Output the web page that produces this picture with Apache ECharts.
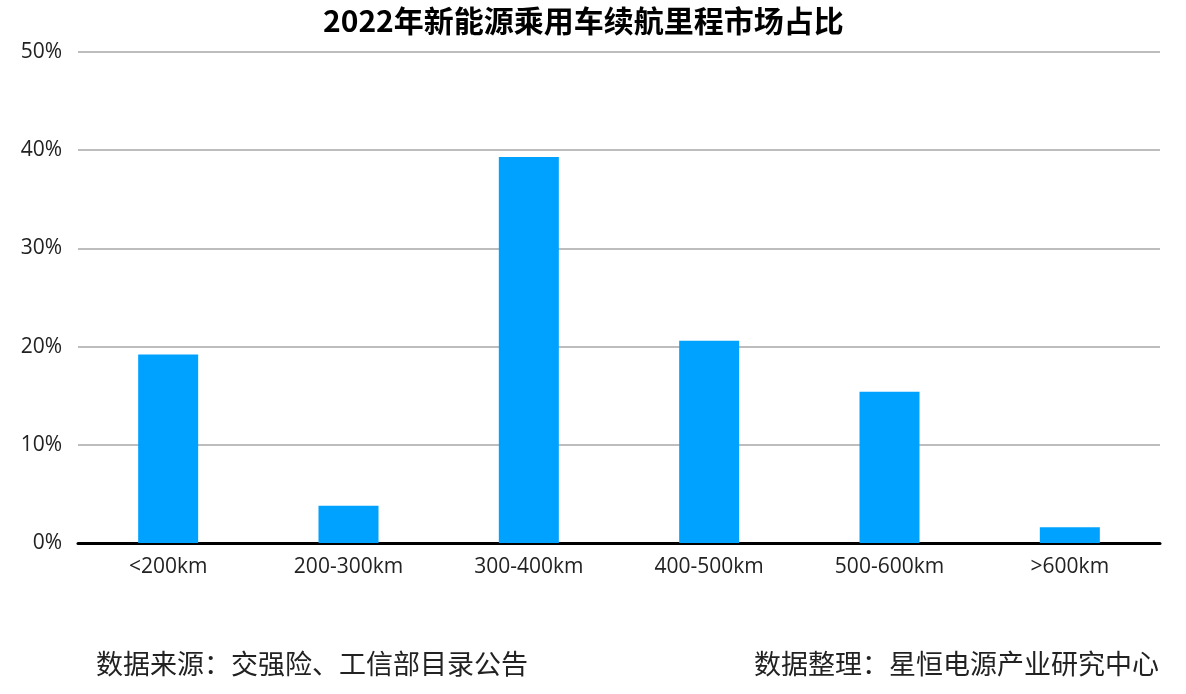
<!DOCTYPE html>
<html>
<head>
<meta charset="utf-8">
<script src="https://cdn.jsdelivr.net/npm/echarts@6/dist/echarts.min.js"></script>
<style>
html, body { margin: 0; padding: 0; background: #fff; }
#chart { width: 1186px; height: 694px; }
</style>
</head>
<body>
<div id="chart"></div>
<script>
// range buckets and market share (%)
var categories = ['<200km', '200-300km', '300-400km', '400-500km', '500-600km', '>600km'];
var shares = [19.2, 3.8, 39.3, 20.6, 15.4, 1.6];
var titleText = '2022年新能源乘用车续航里程市场占比';
var sourceText = '数据来源：交强险、工信部目录公告';
var authorText = '数据整理：星恒电源产业研究中心';

var fontCJK = '"Noto Sans CJK SC", "Open Sans", sans-serif';

var chart = echarts.init(document.getElementById('chart'), null, { renderer: 'canvas' });

chart.setOption({
    backgroundColor: '#fff',
    animation: false,
    title: {
        text: titleText,
        left: 318,
        top: 1,
        textStyle: { fontFamily: fontCJK, fontSize: 30, fontWeight: 'bold', color: '#000' }
    },
    grid: { left: 78, right: 26, top: 52, bottom: 151 },
    xAxis: {
        type: 'category',
        data: categories,
        axisLine: { lineStyle: { color: '#000', width: 3 } },
        axisTick: { show: false },
        axisLabel: { color: '#222', fontSize: 21, fontFamily: '"Open Sans", sans-serif', margin: 14 }
    },
    yAxis: {
        type: 'value',
        min: 0,
        max: 50,
        interval: 10,
        axisLine: { show: false },
        axisTick: { show: false },
        axisLabel: {
            formatter: '{value}%',
            color: '#222',
            fontSize: 21,
            fontFamily: '"Open Sans", sans-serif',
            margin: 16
        },
        splitLine: { lineStyle: { color: '#bdbdbd', width: 2 } }
    },
    series: [{
        type: 'bar',
        data: shares,
        barWidth: 60,
        itemStyle: { color: '#00A2FF' }
    }],
    graphic: [
        {
            type: 'text', left: 96, top: 650,
            style: { text: sourceText, font: '27px ' + fontCJK, fill: '#222' }
        },
        {
            type: 'text', right: 27, top: 650,
            style: { text: authorText, font: '27px ' + fontCJK, fill: '#222' }
        }
    ]
});
</script>
</body>
</html>
